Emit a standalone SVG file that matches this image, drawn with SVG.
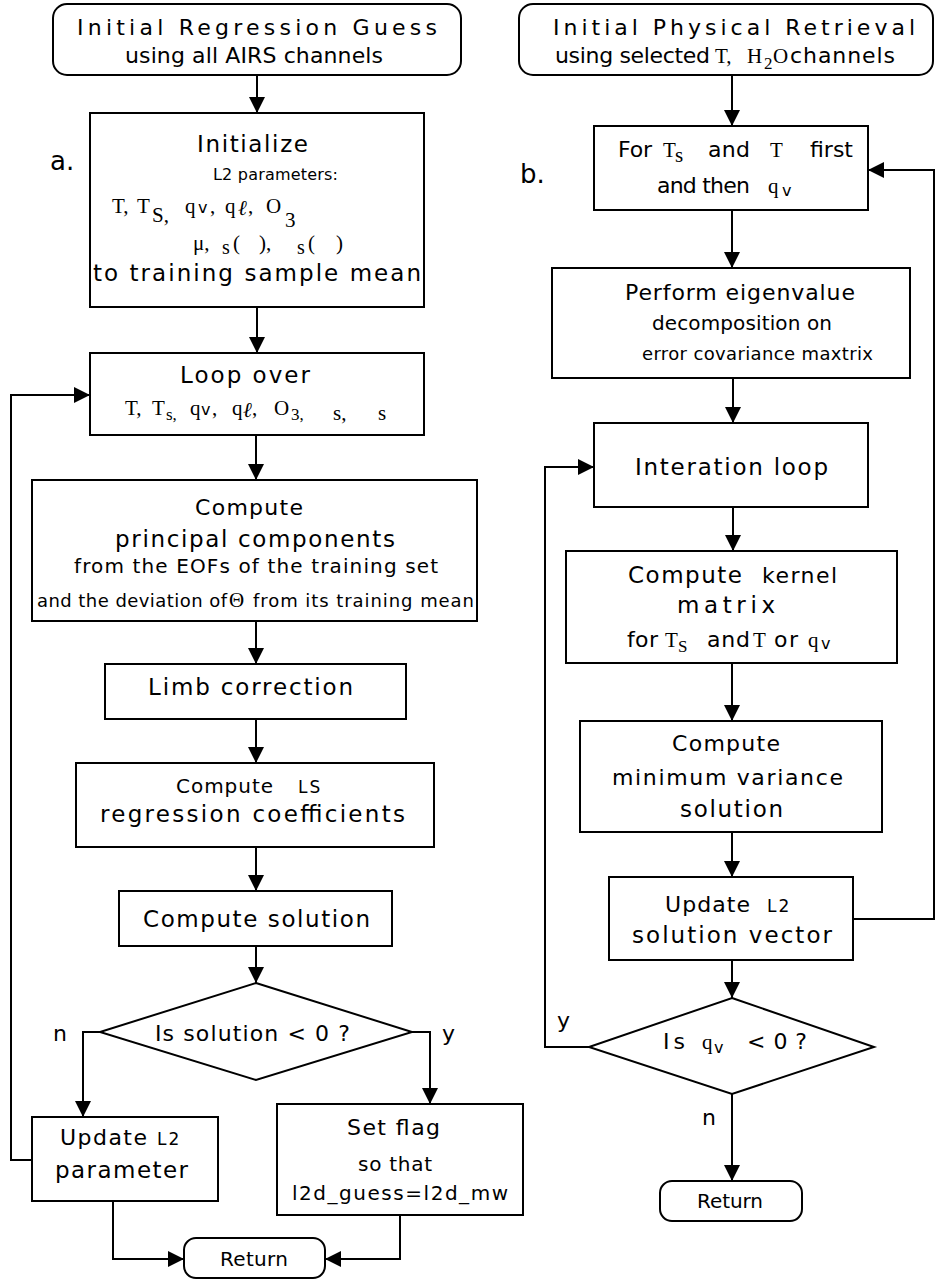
<svg xmlns="http://www.w3.org/2000/svg" width="935" height="1279" viewBox="0 0 935 1279">
  <style>
    .box { fill: #fff; stroke: #000; stroke-width: 2; }
    .conn { fill: none; stroke: #000; stroke-width: 2; }
    .arr { marker-end: url(#ah); }
    text { fill: #000; }
    .s { font-family: "DejaVu Sans", Verdana, sans-serif; font-size: 23px; }
    .s22 { font-family: "DejaVu Sans", Verdana, sans-serif; font-size: 22px; }
    .s20 { font-family: "DejaVu Sans", Verdana, sans-serif; font-size: 20px; }
    .s18 { font-family: "DejaVu Sans", Verdana, sans-serif; font-size: 18px; }
    .s16 { font-family: "DejaVu Sans", Verdana, sans-serif; font-size: 16px; }
    .sm { font-family: "DejaVu Sans", Verdana, sans-serif; font-size: 17px; letter-spacing: 2px; }
    .m { font-family: "Liberation Serif", "Times New Roman", serif; font-size: 21px; }
    .ms { font-family: "Liberation Serif", "Times New Roman", serif; font-size: 17px; }
    .lbl { font-family: "DejaVu Sans", Verdana, sans-serif; font-size: 26px; }
  </style>
  <defs>
    <marker id="ah" markerUnits="userSpaceOnUse" markerWidth="16" markerHeight="16" refX="16" refY="8" orient="auto">
      <path d="M0,0 L16,8 L0,16 z" fill="#000"/>
    </marker>
  </defs>
  <rect width="935" height="1279" fill="#fff"/>

  <!-- panel labels -->
  <text class="lbl" x="50" y="170">a.</text>
  <text class="lbl" x="520" y="183">b.</text>

  <!-- connectors -->
  <g id="connectors">
    <!-- panel a -->
    <path class="conn arr" d="M257,75 V113"/>
    <path class="conn arr" d="M257,307 V353"/>
    <path class="conn arr" d="M256,435 V480"/>
    <path class="conn arr" d="M256,621 V664"/>
    <path class="conn arr" d="M256,719 V763"/>
    <path class="conn arr" d="M256,847 V891"/>
    <path class="conn arr" d="M256,946 V983"/>
    <path class="conn arr" d="M100,1032 H83 V1117"/>
    <path class="conn arr" d="M412,1032 H430 V1104"/>
    <path class="conn arr" d="M32,1160 H11 V395 H90"/>
    <path class="conn arr" d="M113,1201 V1259 H184"/>
    <path class="conn arr" d="M400,1215 V1259 H325"/>
    <text class="s22" x="53" y="1041">n</text>
    <text class="s22" x="442" y="1041">y</text>
    <!-- panel b -->
    <path class="conn arr" d="M732,75 V126"/>
    <path class="conn arr" d="M732,210 V268"/>
    <path class="conn arr" d="M733,378 V423"/>
    <path class="conn arr" d="M733,507 V551"/>
    <path class="conn arr" d="M732,663 V721"/>
    <path class="conn arr" d="M732,832 V877"/>
    <path class="conn arr" d="M732,960 V998"/>
    <path class="conn arr" d="M853,919 H934 V170 H868"/>
    <path class="conn arr" d="M589,1047 H545 V467 H594"/>
    <path class="conn arr" d="M732,1094 V1181"/>
    <text class="s22" x="557" y="1028">y</text>
    <text class="s22" x="702" y="1125">n</text>
  </g>

  <!-- ===== panel a ===== -->
  <g id="a-start">
    <rect class="box" x="53" y="4" width="408" height="71" rx="14"/>
    <text class="s22" x="77" y="35" textLength="360">Initial Regression Guess</text>
    <text class="s22" x="125" y="63" textLength="258">using all AIRS channels</text>
  </g>

  <g id="a-init">
    <rect class="box" x="90" y="113" width="334" height="194"/>
    <text class="s" x="197" y="152" textLength="111">Initialize</text>
    <text class="s16" x="213" y="180" textLength="125">L2 parameters:</text>
    <text class="m" x="112" y="213" font-size="22">T,</text>
    <text class="m" x="137" y="213" font-size="22">T</text>
    <text class="m" x="152" y="222" font-size="20">S,</text>
    <text class="m" x="185" y="213" font-size="22">q</text>
    <text class="s16" x="198" y="213">v</text>
    <text class="m" x="210" y="213" font-size="22">,</text>
    <text class="m" x="225" y="213" font-size="22">q</text>
    <text class="m" x="238" y="215" font-size="18" font-style="italic">ℓ</text>
    <text class="m" x="248" y="213" font-size="22">,</text>
    <text class="m" x="266" y="213" font-size="23">O</text>
    <text class="m" x="285" y="227" font-size="20">3</text>
    <text class="m" x="193" y="250" font-size="22">μ,</text>
    <!-- subscript s followed by empty parentheses, kept as one run each -->
    <text class="m" font-size="22"><tspan x="222" y="254" font-size="20">s</tspan><tspan x="233" y="250">(</tspan><tspan x="259" y="250">),</tspan></text>
    <text class="m" font-size="22"><tspan x="297" y="254" font-size="20">s</tspan><tspan x="308" y="250">(</tspan><tspan x="336" y="250">)</tspan></text>
    <text class="s" x="93" y="281" textLength="328">to training sample mean</text>
  </g>

  <g id="a-loop">
    <rect class="box" x="90" y="353" width="334" height="82"/>
    <text class="s" x="180" y="383" textLength="130">Loop over</text>
    <text class="m" x="125" y="415">T,</text>
    <text class="m" x="152" y="415">T</text>
    <text class="ms" x="166" y="420">s,</text>
    <text class="m" x="190" y="415">q</text>
    <text class="s16" x="201" y="415">v</text>
    <text class="m" x="212" y="415">,</text>
    <text class="m" x="232" y="415">q</text>
    <text class="m" x="243" y="417" font-size="17" font-style="italic">ℓ</text>
    <text class="m" x="252" y="415">,</text>
    <text class="m" x="274" y="415">O</text>
    <text class="ms" x="291" y="420">3,</text>
    <text class="m" x="333" y="420">s,</text>
    <text class="m" x="378" y="420">s</text>
  </g>

  <g id="a-pc">
    <rect class="box" x="32" y="480" width="445" height="141"/>
    <text class="s22" x="195" y="515" textLength="108">Compute</text>
    <text class="s" x="115" y="547" textLength="280">principal components</text>
    <text class="s20" x="74" y="573" textLength="364">from the EOFs of the training set</text>
    <text class="s18" x="37" y="607" textLength="190">and the deviation of</text>
    <text class="m" x="229" y="607" font-size="22">Θ</text>
    <text class="s18" x="253" y="607" textLength="221">from its training mean</text>
  </g>

  <g id="a-limb">
    <rect class="box" x="105" y="664" width="301" height="55"/>
    <text class="s" x="148" y="695" textLength="205">Limb correction</text>
  </g>

  <g id="a-ls">
    <rect class="box" x="76" y="763" width="358" height="84"/>
    <text class="s20" x="176" y="793" font-size="21" textLength="97">Compute</text>
    <text class="sm" x="298" y="793">LS</text>
    <text class="s" x="100" y="822" textLength="305">regression coefficients</text>
  </g>

  <g id="a-solve">
    <rect class="box" x="119" y="891" width="273" height="55"/>
    <text class="s" x="143" y="927" textLength="227">Compute solution</text>
  </g>

  <g id="a-test">
    <polygon class="box" points="256,983 412,1032 256,1080 100,1032"/>
    <text class="s22" x="155" y="1041" textLength="195">Is solution &lt; 0 ?</text>
  </g>

  <g id="a-update">
    <rect class="box" x="32" y="1117" width="186" height="84"/>
    <text class="s22" x="60" y="1145" textLength="87">Update</text>
    <text class="sm" x="157" y="1145">L2</text>
    <text class="s" x="55" y="1178" textLength="133">parameter</text>
  </g>

  <g id="a-flag">
    <rect class="box" x="277" y="1104" width="246" height="111"/>
    <text class="s22" x="347" y="1135" textLength="93">Set flag</text>
    <text class="s20" x="358" y="1171" font-size="19" textLength="74">so that</text>
    <text class="s20" x="292" y="1200" textLength="216">l2d_guess=l2d_mw</text>
  </g>

  <g id="a-return">
    <rect class="box" x="184" y="1238" width="141" height="40" rx="12"/>
    <text class="s20" x="220" y="1266" textLength="68">Return</text>
  </g>

  <!-- ===== panel b ===== -->
  <g id="b-start">
    <rect class="box" x="519" y="4" width="414" height="71" rx="14"/>
    <text class="s22" x="553" y="35" textLength="362">Initial Physical Retrieval</text>
    <text class="s22" x="555" y="63" font-size="21" textLength="155">using selected</text>
    <text class="m" x="715" y="63" font-size="22">T,</text>
    <text class="m" x="747" y="63" font-size="22">H</text>
    <text class="ms" x="764" y="69">2</text>
    <text class="m" x="773" y="63" font-size="22">O</text>
    <text class="s22" x="790" y="63" textLength="105">channels</text>
  </g>

  <g id="b-for">
    <rect class="box" x="594" y="126" width="274" height="84"/>
    <text class="s22" x="618" y="157" font-size="21" textLength="34">For</text>
    <text class="m" x="663" y="157" font-size="19">T</text>
    <text class="m" x="675" y="162" font-size="15">s</text>
    <text class="s22" x="708" y="157" textLength="42">and</text>
    <text class="m" x="770" y="157" font-size="19">T</text>
    <text class="s22" x="810" y="157" textLength="43">first</text>
    <text class="s22" x="657" y="193" font-size="21" textLength="93">and then</text>
    <text class="m" x="768" y="193">q</text>
    <text class="s16" x="782" y="196">v</text>
  </g>

  <g id="b-eigen">
    <rect class="box" x="552" y="268" width="358" height="110"/>
    <text class="s22" x="625" y="300" textLength="230">Perform eigenvalue</text>
    <text class="s20" x="652" y="330" textLength="180">decomposition on</text>
    <text class="s18" x="642" y="360" textLength="231">error covariance maxtrix</text>
  </g>

  <g id="b-iter">
    <rect class="box" x="594" y="423" width="274" height="84"/>
    <text class="s" x="635" y="475" textLength="193">Interation loop</text>
  </g>

  <g id="b-kernel">
    <rect class="box" x="566" y="551" width="331" height="112"/>
    <text class="s" x="628" y="583" textLength="114">Compute</text>
    <text class="s22" x="762" y="583" textLength="75">kernel</text>
    <text class="s" x="677" y="613" textLength="98">matrix</text>
    <text class="s22" x="627" y="647" textLength="31">for</text>
    <text class="m" x="665" y="647">T</text>
    <text class="ms" x="678" y="652">S</text>
    <text class="s22" x="707" y="647" textLength="43">and</text>
    <text class="m" x="753" y="647">T</text>
    <text class="s22" x="774" y="647" textLength="24">or</text>
    <text class="m" x="808" y="647">q</text>
    <text class="s16" x="821" y="649">v</text>
  </g>

  <g id="b-minvar">
    <rect class="box" x="580" y="721" width="302" height="111"/>
    <text class="s22" x="672" y="751" textLength="108">Compute</text>
    <text class="s22" x="612" y="785" textLength="231">minimum variance</text>
    <text class="s" x="680" y="817" textLength="103">solution</text>
  </g>

  <g id="b-update">
    <rect class="box" x="609" y="877" width="244" height="83"/>
    <text class="s22" x="665" y="912" textLength="85">Update</text>
    <text class="sm" x="767" y="912">L2</text>
    <text class="s" x="632" y="943" textLength="200">solution vector</text>
  </g>

  <g id="b-test">
    <polygon class="box" points="732,998 874,1047 732,1094 589,1047"/>
    <text class="s22" x="663" y="1049" font-size="20" textLength="22">Is</text>
    <text class="m" x="702" y="1049" font-size="22">q</text>
    <text class="s16" x="714" y="1053" font-size="17">v</text>
    <text class="s22" x="747" y="1049" font-size="21" textLength="60">&lt; 0 ?</text>
  </g>

  <g id="b-return">
    <rect class="box" x="660" y="1181" width="142" height="40" rx="12"/>
    <text class="s20" x="697" y="1208" textLength="66">Return</text>
  </g>
</svg>
